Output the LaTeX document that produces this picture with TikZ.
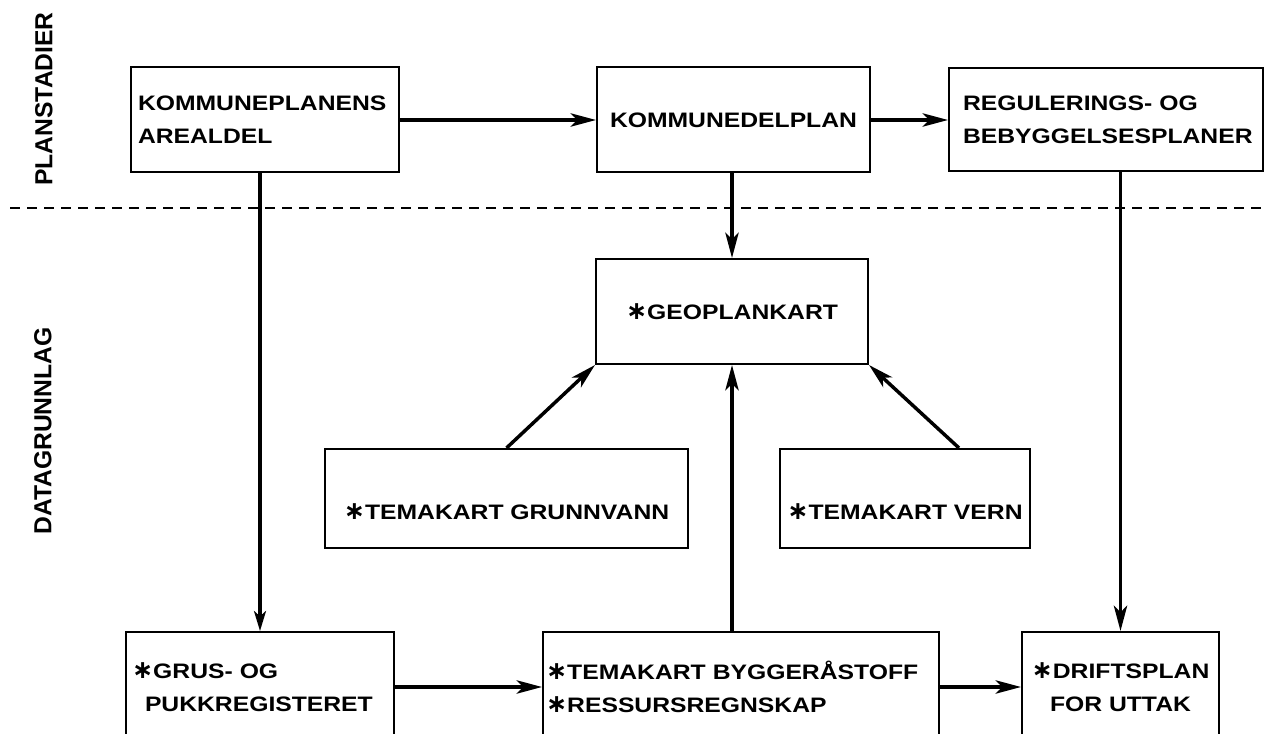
\documentclass[tikz,border=0pt]{standalone}
\usepackage{fontspec}
\setmainfont{Liberation Sans Bold}[FakeStretch=1.18]
\newfontfamily\sidefont{Liberation Sans Bold}
\newfontfamily\symfont{DejaVu Sans Bold}
\usetikzlibrary{arrows.meta,calc}
\newdimen\px \px=0.75pt
\newcommand{\stjerne}{{\symfont\fontsize{19pt}{19pt}\selectfont\char"2217}}
\begin{document}
\begin{tikzpicture}[x=0.75pt, y=-0.75pt,
    font=\fontsize{15.7pt}{24.75pt}\selectfont,
    boks/.style={draw, line width=1.5pt, inner ysep=0pt, minimum height=105\px},
    lavtekst/.style={text height=31pt, text depth=0pt},
    pil/.style={line width=2.6pt, -{Stealth[length=19pt,width=10pt,inset=5pt]}},
    apil/.style={line width=2.4pt, -{Stealth[open,length=15pt,width=9pt,inset=4pt,fill=white]}}]
    \clip (0,0) rectangle (1268,734);
                \node[rotate=90, font=\sidefont\fontsize{18.5pt}{20pt}\selectfont] (plan) at (44,99) {PLANSTADIER};
                \node[rotate=90, font=\sidefont\fontsize{18.5pt}{20pt}\selectfont] (data) at (43,431) {DATAGRUNNLAG};
                \coordinate (dl) at (10,208);
                \coordinate (dr) at (1268,208);
                
                \node[boks, minimum width=268\px, inner xsep=7\px, text width=254\px, align=left] (areal) at (265,120) {KOMMUNEPLANENS\\AREALDEL};
                \node[boks, minimum width=273\px] (delplan) at (733.5,120) {KOMMUNEDELPLAN};
                \node[boks, minimum width=314\px, minimum height=103\px, inner xsep=14\px, text width=286\px, align=left] (regul) at (1106,120) {REGULERINGS- OG\\BEBYGGELSESPLANER};
                \node[boks, minimum width=272\px] (geo) at (732,311.5) {\stjerne GEOPLANKART};
                \node[boks, lavtekst, minimum width=363\px, minimum height=99\px] (grunn) at (506.5,498.5) {\stjerne TEMAKART GRUNNVANN};
                \node[boks, lavtekst, minimum width=250\px, minimum height=99\px] (vern) at (905,498.5) {\stjerne TEMAKART VERN};
                \node[boks, minimum width=268\px, minimum height=110\px, inner xsep=6\px, text width=256\px, align=left] (grus) at (260,687) {\stjerne GRUS- OG\\\hspace*{13\px}PUKKREGISTERET};
                \node[boks, minimum width=396\px, minimum height=110\px, inner xsep=3\px, text width=390\px, align=left] (bygg) at (741,687) {\stjerne TEMAKART BYGGERÅSTOFF\\\stjerne RESSURSREGNSKAP};
                \node[boks, minimum width=197\px, minimum height=110\px, align=center] (drift) at (1120.5,687) {\stjerne DRIFTSPLAN\\FOR UTTAK};
                
                \draw[dashed, dash pattern=on 10\px off 7\px, line width=1.4pt] (dl) -- (dr);
                \draw[pil] (areal) to (delplan); \draw[pil] (delplan) to (regul);
                \draw[pil] (delplan.south -| geo) to (geo.north);
                \draw[pil] (grunn.north) to (geo.south west);
                \draw[pil] ($(vern.north east)+(-72,0)$) to (geo.south east);
                \draw[pil] (bygg.north -| geo) to (geo.south);
                \draw[pil] (grus) to (bygg); \draw[pil] (bygg) to (drift);
                \draw[apil] (areal.south -| grus) to (grus.north);
                \draw[pil] (regul.south -| drift) to (drift.north);
            \end{tikzpicture}
\end{document}
